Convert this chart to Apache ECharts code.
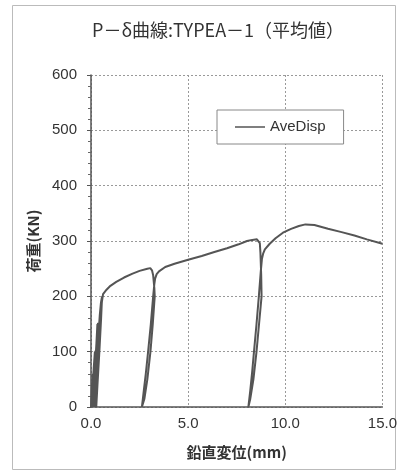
<!DOCTYPE html>
<html>
<head>
<meta charset="utf-8">
<script src="https://cdn.jsdelivr.net/npm/echarts@6/dist/echarts.min.js"></script>
<style>
  html, body { margin: 0; padding: 0; background: #fff; }
  #chart { width: 400px; height: 474px; }
</style>
</head>
<body>
<div id="chart"></div>
<script>
  'use strict';
  // P-δ curve (mm, kN)
  var disp = [
    0, 0.04, 0.08, 0.06, 0.04,
    0.07, 0.14, 0.2, 0.17, 0.12, 0.09,
    0.13, 0.2, 0.24, 0.21, 0.15, 0.12,
    0.16, 0.22, 0.28, 0.33, 0.29, 0.24, 0.2, 0.17,
    0.21, 0.27, 0.32, 0.36, 0.31, 0.25, 0.21, 0.19,
    0.23, 0.3, 0.38, 0.45, 0.51, 0.57, 0.52, 0.43, 0.34, 0.27,
    0.33, 0.42, 0.5, 0.56, 0.62, 0.8, 1.0, 1.3, 1.7, 2.14, 2.5, 2.9, 3.05,
    3.14, 3.2, 3.26, 3.28, 3.18, 3.06, 2.9, 2.75, 2.62,
    2.72, 2.82, 2.94, 3.08, 3.2, 3.26, 3.3, 3.38, 3.5, 3.82, 4.3, 5.0, 5.7, 6.35, 7.0, 7.6, 8.03, 8.3, 8.54,
    8.64, 8.69, 8.72, 8.76, 8.78, 8.65, 8.52, 8.36, 8.2, 8.1,
    8.2, 8.3, 8.39, 8.52, 8.64, 8.74, 8.8, 8.86, 8.95, 9.2, 9.5, 9.88, 10.3, 10.7, 11.04, 11.5, 12.2, 12.9, 13.56, 14.2, 15.0
  ];
  var load = [
    0, 30, 60, 30, 0,
    30, 70, 100, 65, 25, 0,
    40, 80, 102, 65, 25, 0,
    40, 80, 115, 150, 110, 60, 20, 0,
    45, 95, 130, 152, 110, 55, 20, 0,
    40, 90, 130, 165, 188, 200, 160, 100, 45, 0,
    50, 110, 160, 190, 204, 212, 219, 226, 234, 241, 246, 250, 251,
    247, 238, 215, 200, 150, 100, 50, 15, 0,
    30, 60, 100, 150, 200, 222, 232, 240, 245, 253, 259, 266, 273, 280, 287, 294, 300, 302, 303,
    301, 296, 280, 240, 200, 150, 100, 50, 15, 0,
    30, 65, 100, 150, 200, 245, 268, 277, 285, 295, 305, 315, 322, 327, 330, 329, 322, 316, 310, 303, 295
  ];
  var seriesName = 'AveDisp';
  var titleText = 'P－δ曲線:TYPEA－1（平均値）';

  var points = disp.map(function (d, i) {
    return [d, load[i]];
  });

  var gridLine = { show: true, lineStyle: { color: '#999', width: 1, type: [2, 2] } };
  var numFont = 'Liberation Sans, Arial, sans-serif';
  var cjkFont = 'Noto Sans CJK JP, sans-serif';

  var option = {
    backgroundColor: '#fff',
    animation: false,
    graphic: [{
      type: 'rect',
      shape: { x: 12.5, y: 5.5, width: 383, height: 464 },
      style: { fill: 'none', stroke: '#bbb', lineWidth: 1 },
      silent: true
    }],
    title: {
      text: titleText,
      left: 87,
      top: 16,
      textStyle: { fontFamily: cjkFont, fontSize: 18, fontWeight: 'normal', color: '#333' }
    },
    legend: {
      left: 217,
      top: 110,
      padding: [8, 18, 8, 18],
      itemWidth: 30,
      itemHeight: 1.5,
      itemGap: 5,
      backgroundColor: '#fff',
      borderColor: '#888',
      borderWidth: 1,
      textStyle: { fontFamily: numFont, fontSize: 15, color: '#333', lineHeight: 18 },
      data: [{ name: seriesName, icon: 'rect' }]
    },
    grid: { left: 91, right: 12, top: 75, bottom: 67 },
    xAxis: {
      type: 'value',
      min: 0,
      max: 15,
      interval: 5,
      name: '鉛直変位(mm)',
      nameLocation: 'middle',
      nameGap: 38,
      nameTextStyle: { fontFamily: cjkFont, fontSize: 15, fontWeight: 'bold', color: '#333' },
      axisLine: { show: true, lineStyle: { color: '#555', width: 1.5 } },
      axisTick: { show: false },
      axisLabel: {
        margin: 9,
        fontFamily: numFont,
        fontSize: 15,
        color: '#333',
        formatter: function (v) { return v.toFixed(1); }
      },
      splitLine: gridLine
    },
    yAxis: {
      type: 'value',
      min: 0,
      max: 600,
      interval: 100,
      name: '荷重(KN)',
      nameLocation: 'middle',
      nameRotate: 90,
      nameGap: 47,
      nameTextStyle: { fontFamily: cjkFont, fontSize: 15, fontWeight: 'bold', color: '#333' },
      axisLine: { show: true, lineStyle: { color: '#555', width: 1.5 } },
      axisTick: { show: true, length: 4, lineStyle: { color: '#555' } },
      minorTick: { show: true, splitNumber: 5, length: 3, lineStyle: { color: '#666' } },
      axisLabel: { margin: 14, fontFamily: numFont, fontSize: 15, color: '#333' },
      splitLine: gridLine
    },
    series: [{
      name: seriesName,
      type: 'line',
      data: points,
      symbol: 'none',
      z: 5,
      lineStyle: { color: '#555', width: 2 },
      itemStyle: { color: '#555' }
    }]
  };

  var myChart = echarts.init(document.getElementById('chart'));
  myChart.setOption(option);
</script>
</body>
</html>
